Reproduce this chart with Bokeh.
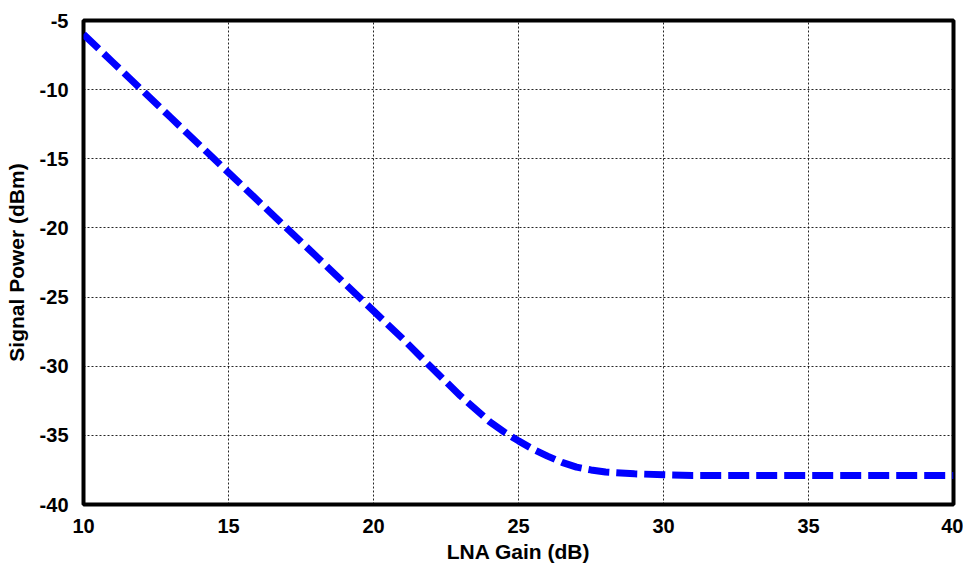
from bokeh.plotting import figure
from bokeh.models import Range1d, FixedTicker
from bokeh.embed import file_html
from bokeh.resources import INLINE

# Data
lna_gain_db = [10, 11, 12, 13, 14, 15, 16, 17, 18, 19, 20, 21, 22, 23, 24, 24.5,
               25, 25.5, 26, 26.5, 27, 27.5, 28, 29, 30, 31, 32, 33, 34, 35, 36,
               37, 38, 39, 40]
signal_power_dbm = [-6.0, -8.0, -10.0, -12.0, -14.0, -16.0, -18.0, -20.0, -22.0,
                    -24.0, -26.0, -28.0, -30.1, -32.15, -34.0, -34.75, -35.4,
                    -36.0, -36.5, -36.95, -37.3, -37.5, -37.65, -37.78, -37.85,
                    -37.9, -37.9, -37.9, -37.9, -37.9, -37.9, -37.9, -37.9,
                    -37.9, -37.9]
x_ticks = [10, 15, 20, 25, 30, 35, 40]
y_ticks = [-40, -35, -30, -25, -20, -15, -10, -5]
x_tick_labels = ["10", "15", "20", "25", "30", "35", "40"]
y_tick_labels = ["-40", "-35", "-30", "-25", "-20", "-15", "-10", "-5"]

p = figure(width=963, height=567, output_backend="svg", toolbar_location=None,
           x_range=Range1d(10, 40), y_range=Range1d(-40, -5),
           min_border_left=83, min_border_right=10, min_border_top=20,
           min_border_bottom=63)

p.line(lna_gain_db, signal_power_dbm, line_color="#0000FF", line_width=7,
       line_dash="21 7", line_cap="butt", line_join="round")

p.outline_line_color = "black"
p.outline_line_width = 4
p.background_fill_color = "white"
p.border_fill_color = "white"

for ax in (p.xaxis[0], p.yaxis[0]):
    ax.axis_line_color = None
    ax.major_tick_line_color = None
    ax.minor_tick_line_color = None
    ax.major_label_text_font = "Liberation Sans"
    ax.major_label_text_font_style = "bold"
    ax.major_label_text_font_size = "20px"
    ax.major_label_text_color = "black"
    ax.axis_label_text_font = "Liberation Sans"
    ax.axis_label_text_font_style = "bold"
    ax.axis_label_text_font_size = "21px"
    ax.axis_label_text_color = "black"

p.xaxis.ticker = FixedTicker(ticks=x_ticks)
p.yaxis.ticker = FixedTicker(ticks=y_ticks)
p.xaxis.major_label_overrides = dict(zip(x_ticks, x_tick_labels))
p.yaxis.major_label_overrides = dict(zip(y_ticks, y_tick_labels))
p.xaxis.axis_label = "LNA Gain (dB)"
p.yaxis.axis_label = "Signal Power (dBm)"
p.xaxis.major_label_standoff = 8
p.yaxis.major_label_standoff = 9
p.xaxis.axis_label_standoff = 4
p.yaxis.axis_label_standoff = 9

for g in (p.xgrid[0], p.ygrid[0]):
    g.grid_line_color = "black"
    g.grid_line_dash = "2 2"
    g.grid_line_width = 1
    g.grid_line_alpha = 0.85

open("out.html", "w").write(file_html(p, INLINE))
